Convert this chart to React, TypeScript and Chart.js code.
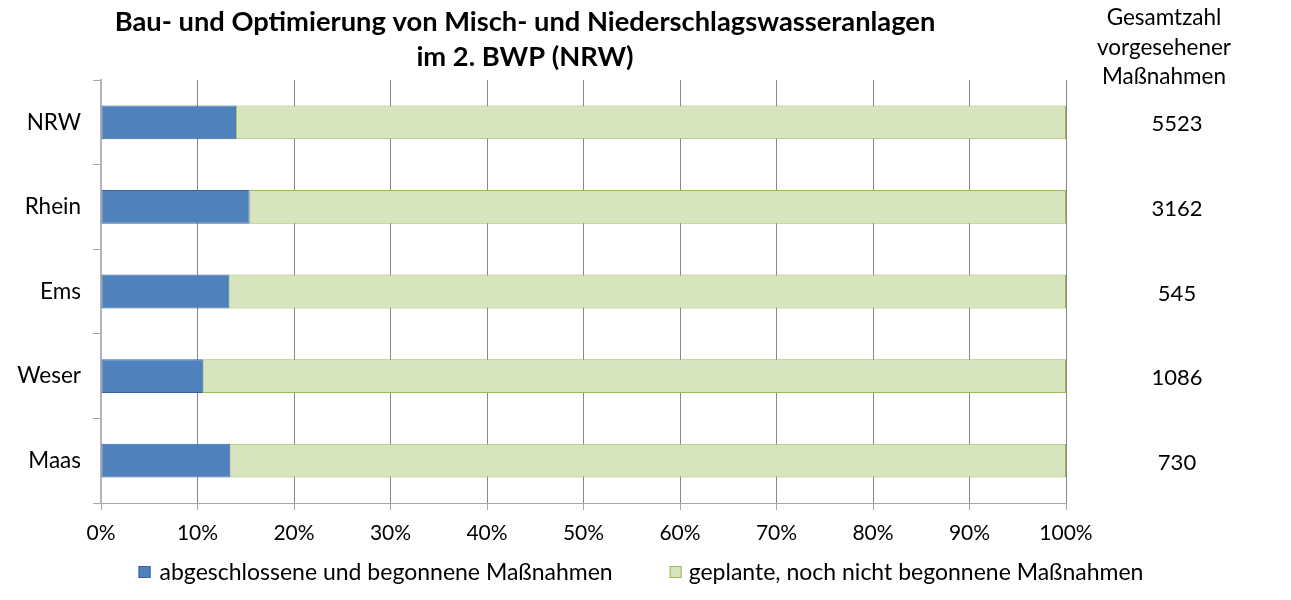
import React, { useEffect, useRef } from "react";
import { Chart, registerables } from "chart.js";

Chart.register(...registerables);

const categories = ["NRW", "Rhein", "Ems", "Weser", "Maas"];
const doneShare = [14.0, 15.4, 13.3, 10.6, 13.4];
const plannedShare = [86.0, 84.6, 86.7, 89.4, 86.6];
const totals = ["5523", "3162", "545", "1086", "730"];
const xTicks = [0, 10, 20, 30, 40, 50, 60, 70, 80, 90, 100];
const seriesNames = [
  "abgeschlossene und begonnene Maßnahmen",
  "geplante, noch nicht begonnene Maßnahmen",
];
const titleLines = [
  "Bau- und Optimierung von Misch- und Niederschlagswasseranlagen",
  "im 2. BWP (NRW)",
];
const sideHeader = ["Gesamtzahl", "vorgesehener", "Maßnahmen"];

const FONT = "Lato, 'Open Sans', sans-serif";
const BLUE = "#4F81BD";
const BLUE_EDGE = "#3A659A";
const GREEN = "#D7E4BD";
const GREEN_EDGE = "#9BBB59";

const overlayPlugin = {
  id: "overlay",
  afterDraw(chart: any) {
    const ctx = chart.ctx as CanvasRenderingContext2D;
    const yScale = chart.scales.y;
    ctx.save();
    ctx.fillStyle = "#000";
    ctx.textAlign = "center";
    ctx.textBaseline = "middle";
    // Title
    ctx.font = `bold 27.3px ${FONT}`;
    ctx.fillText(titleLines[0], 517, 14);
    ctx.fillText(titleLines[1], 517, 49);
    // Side header
    ctx.font = `22.5px ${FONT}`;
    sideHeader.forEach((t, i) => ctx.fillText(t, 1156, 10 + i * 29.5));
    // Totals
    ctx.font = `22px ${FONT}`;
    totals.forEach((t, i) => {
      const y = yScale.getPixelForValue(i);
      ctx.fillText(t, 1169, y + 2);
    });
    // Legend
    ctx.font = `23px ${FONT}`;
    ctx.textAlign = "left";
    const box = 12;
    const gapBoxText = [9, 7];
    const gapItems = 57;
    const w0 = ctx.measureText(seriesNames[0]).width;
    const w1 = ctx.measureText(seriesNames[1]).width;
    const total = box + gapBoxText[0] + w0 + gapItems + box + gapBoxText[1] + w1;
    let x = chart.width / 2 - 4.5 - total / 2;
    const ly = 564;
    const colors = [
      [BLUE, BLUE_EDGE],
      [GREEN, GREEN_EDGE],
    ];
    [w0, w1].forEach((w, i) => {
      ctx.fillStyle = colors[i][0];
      ctx.fillRect(x, ly - box / 2, box, box);
      ctx.strokeStyle = colors[i][1];
      ctx.lineWidth = 1;
      ctx.strokeRect(x + 0.5, ly - box / 2 + 0.5, box - 1, box - 1);
      ctx.fillStyle = "#000";
      ctx.fillText(seriesNames[i], x + box + gapBoxText[i], ly + 1);
      x += box + gapBoxText[i] + w + gapItems;
    });
    ctx.restore();
  },
};

export default function App() {
  const ref = useRef<HTMLCanvasElement | null>(null);
  useEffect(() => {
    if (!ref.current) return;
    const chart = new Chart(ref.current, {
      type: "bar",
      data: {
        labels: categories,
        datasets: [
          {
            label: seriesNames[0],
            data: doneShare,
            backgroundColor: BLUE,
            borderColor: BLUE_EDGE,
            borderWidth: 1,
            borderSkipped: false,
          },
          {
            label: seriesNames[1],
            data: plannedShare,
            backgroundColor: GREEN,
            borderColor: GREEN_EDGE,
            borderWidth: 1,
            borderSkipped: false,
          },
        ],
      },
      options: {
        indexAxis: "y",
        animation: false,
        responsive: true,
        maintainAspectRatio: false,
        layout: { padding: { top: 72, right: 217, left: 0, bottom: 44 } },
        datasets: { bar: { categoryPercentage: 1, barPercentage: 0.4 } },
        plugins: {
          legend: { display: false },
          title: { display: false },
          tooltip: { enabled: false },
        },
        scales: {
          x: {
            stacked: true,
            min: 0,
            max: 100,
            afterBuildTicks: (s: any) => {
              s.ticks = xTicks.map((v) => ({ value: v }));
            },
            afterFit: (s: any) => {
              s.height = 45;
            },
            grid: { color: "#878787", lineWidth: 1, tickLength: 7, tickColor: "#a6a6a6" },
            border: { color: "#a6a6a6", width: 1 },
            ticks: {
              callback: (v: any) => `${v}%`,
              color: "#000",
              font: { family: FONT, size: 21 },
              padding: 11,
              maxRotation: 0,
            },
          },
          y: {
            stacked: true,
            afterFit: (s: any) => {
              s.width = 93;
            },
            grid: {
              drawOnChartArea: false,
              offset: true,
              tickLength: 8,
              color: "#a6a6a6",
            },
            border: { color: "#b5b5b5", width: 2 },
            ticks: {
              color: "#000",
              font: { family: FONT, size: 22.5 },
              padding: 12,
            },
          },
        },
      },
      plugins: [overlayPlugin],
    });
    return () => chart.destroy();
  }, []);
  return (
    <div style={{ position: "relative", width: 1275, height: 584 }}>
      <canvas ref={ref} />
    </div>
  );
}
